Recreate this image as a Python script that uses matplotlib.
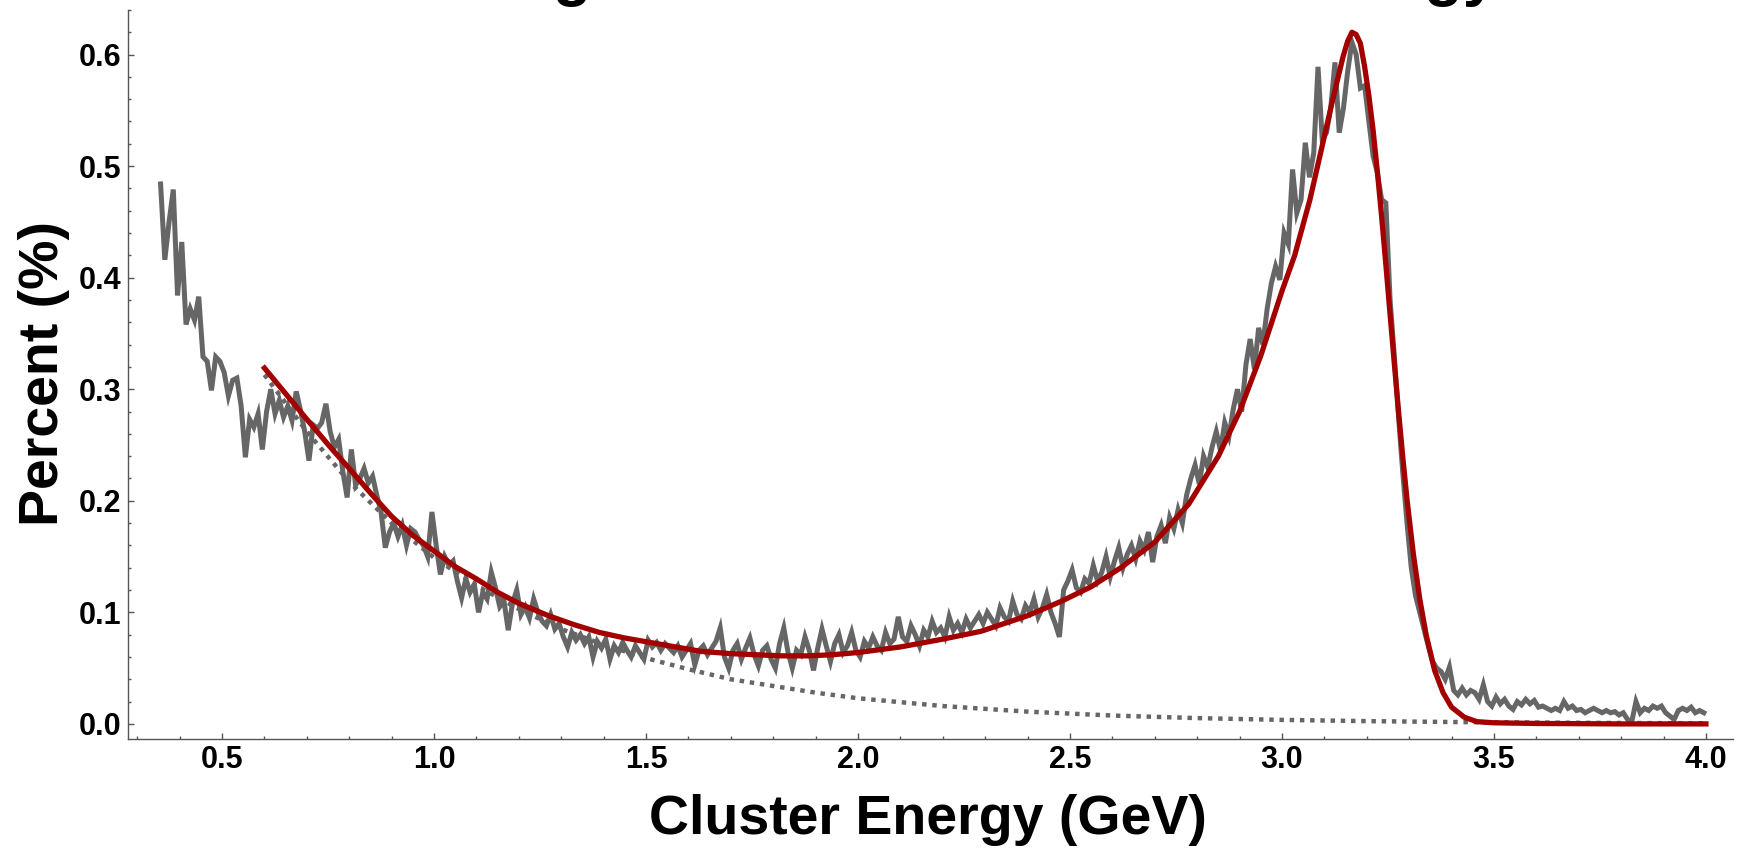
import matplotlib
matplotlib.use("Agg")
import matplotlib.pyplot as plt
from matplotlib.ticker import MultipleLocator, FormatStrFormatter
import numpy as np

# histogram: percent of events per 0.01 GeV bin (bin centres from 0.355 GeV)
bin_start = 0.355
bin_width = 0.01
percent = [
    0.484, 0.416, 0.450, 0.479, 0.384, 0.432, 0.358, 0.372, 0.362, 0.383,
    0.329, 0.325, 0.299, 0.329, 0.325, 0.315, 0.294, 0.308, 0.310, 0.285,
    0.239, 0.273, 0.266, 0.278, 0.246, 0.280, 0.300, 0.278, 0.290, 0.275,
    0.285, 0.272, 0.298, 0.281, 0.262, 0.236, 0.268, 0.265, 0.270, 0.287,
    0.262, 0.248, 0.255, 0.226, 0.203, 0.246, 0.214, 0.220, 0.229, 0.216,
    0.222, 0.205, 0.190, 0.158, 0.172, 0.180, 0.168, 0.178, 0.160, 0.175,
    0.172, 0.165, 0.160, 0.150, 0.190, 0.160, 0.134, 0.150, 0.142, 0.146,
    0.128, 0.113, 0.130, 0.118, 0.125, 0.100, 0.118, 0.112, 0.136, 0.122,
    0.105, 0.110, 0.084, 0.108, 0.120, 0.098, 0.105, 0.095, 0.112, 0.100,
    0.092, 0.088, 0.098, 0.085, 0.090, 0.078, 0.069, 0.082, 0.075, 0.080,
    0.072, 0.078, 0.060, 0.074, 0.068, 0.076, 0.058, 0.070, 0.064, 0.073,
    0.066, 0.060, 0.070, 0.064, 0.058, 0.075, 0.069, 0.073, 0.066, 0.072,
    0.068, 0.064, 0.070, 0.060, 0.066, 0.072, 0.053, 0.066, 0.070, 0.062,
    0.068, 0.074, 0.086, 0.060, 0.050, 0.066, 0.072, 0.058, 0.068, 0.077,
    0.062, 0.052, 0.066, 0.070, 0.058, 0.050, 0.072, 0.086, 0.064, 0.050,
    0.066, 0.062, 0.078, 0.066, 0.048, 0.068, 0.085, 0.070, 0.056, 0.072,
    0.080, 0.064, 0.070, 0.082, 0.066, 0.060, 0.074, 0.068, 0.078, 0.070,
    0.066, 0.082, 0.072, 0.076, 0.096, 0.078, 0.074, 0.088, 0.080, 0.070,
    0.084, 0.078, 0.092, 0.082, 0.086, 0.078, 0.096, 0.084, 0.090, 0.082,
    0.094, 0.086, 0.092, 0.098, 0.090, 0.100, 0.094, 0.088, 0.104, 0.096,
    0.092, 0.110, 0.098, 0.094, 0.106, 0.100, 0.112, 0.096, 0.104, 0.116,
    0.100, 0.090, 0.078, 0.120, 0.128, 0.138, 0.122, 0.118, 0.130, 0.126,
    0.142, 0.128, 0.136, 0.150, 0.132, 0.146, 0.158, 0.140, 0.152, 0.160,
    0.148, 0.164, 0.156, 0.172, 0.145, 0.168, 0.178, 0.162, 0.185, 0.175,
    0.192, 0.180, 0.205, 0.220, 0.232, 0.215, 0.240, 0.230, 0.248, 0.262,
    0.245, 0.270, 0.258, 0.282, 0.300, 0.280, 0.322, 0.345, 0.318, 0.355,
    0.340, 0.372, 0.395, 0.410, 0.398, 0.440, 0.430, 0.497, 0.458, 0.470,
    0.521, 0.490, 0.512, 0.589, 0.524, 0.530, 0.552, 0.593, 0.530, 0.552,
    0.585, 0.611, 0.600, 0.570, 0.572, 0.540, 0.509, 0.494, 0.470, 0.467,
    0.380, 0.330, 0.275, 0.225, 0.180, 0.140, 0.115, 0.100, 0.085, 0.070,
    0.056, 0.050, 0.047, 0.040, 0.051, 0.030, 0.026, 0.032, 0.026, 0.030,
    0.028, 0.022, 0.035, 0.020, 0.016, 0.024, 0.018, 0.022, 0.016, 0.013,
    0.020, 0.017, 0.022, 0.018, 0.021, 0.015, 0.016, 0.014, 0.012, 0.014,
    0.012, 0.020, 0.014, 0.016, 0.012, 0.013, 0.010, 0.012, 0.014, 0.012,
    0.010, 0.012, 0.010, 0.011, 0.008, 0.010, 0.004, 0.002, 0.020, 0.010,
    0.014, 0.012, 0.016, 0.014, 0.016, 0.010, 0.007, 0.004, 0.012, 0.014,
    0.012, 0.015, 0.010, 0.012, 0.010,
]

# full fit
fit_x = [0.60, 0.65, 0.70, 0.76, 0.80, 0.85, 0.90, 0.95, 1.00, 1.05, 1.10, 1.15,
         1.20, 1.27, 1.33, 1.39, 1.45, 1.51, 1.57, 1.63, 1.70, 1.76, 1.82, 1.88,
         1.94, 2.00, 2.10, 2.20, 2.29, 2.40, 2.48, 2.55, 2.62, 2.70, 2.78, 2.85,
         2.90, 2.95, 3.00, 3.03, 3.066, 3.09, 3.12, 3.144, 3.155, 3.165, 3.175,
         3.185, 3.195, 3.205, 3.215, 3.225, 3.235, 3.245, 3.255, 3.265, 3.275,
         3.285, 3.295, 3.31, 3.325, 3.34, 3.36, 3.38, 3.40, 3.43, 3.46, 3.50,
         3.60, 3.80, 4.00]
fit_y = [0.319, 0.296, 0.273, 0.246, 0.229, 0.207, 0.186, 0.169, 0.155, 0.141,
         0.130, 0.118, 0.108, 0.097, 0.089, 0.082, 0.077, 0.073, 0.069, 0.065,
         0.063, 0.062, 0.061, 0.061, 0.062, 0.064, 0.069, 0.076, 0.083, 0.097,
         0.110, 0.123, 0.140, 0.163, 0.197, 0.240, 0.280, 0.330, 0.388, 0.420,
         0.470, 0.510, 0.560, 0.598, 0.612, 0.620, 0.618, 0.610, 0.589, 0.563,
         0.532, 0.495, 0.455, 0.412, 0.367, 0.323, 0.280, 0.239, 0.201, 0.152,
         0.112, 0.080, 0.048, 0.028, 0.015, 0.006, 0.002, 0.001, 0.0004, 0.0,
         0.0]

# background component (dotted)
bg_x = [0.60, 0.70, 0.80, 0.90, 1.00, 1.10, 1.20, 1.30, 1.40, 1.50, 1.60, 1.70,
        1.80, 1.90, 2.00, 2.20, 2.40, 2.60, 2.80, 3.00, 3.20, 3.40, 3.60, 3.80, 4.00]
bg_y = [0.313, 0.262, 0.217, 0.180, 0.149, 0.124, 0.103, 0.085, 0.071, 0.059,
        0.049, 0.040, 0.034, 0.028, 0.023, 0.016, 0.011, 0.0075, 0.0052, 0.0036,
        0.0025, 0.0017, 0.0012, 0.0008, 0.0006]

energy = bin_start + bin_width * np.arange(len(percent))

plt.rcParams["font.family"] = ["Liberation Sans", "DejaVu Sans"]
plt.rcParams["font.weight"] = "bold"

fig = plt.figure(figsize=(17.43, 8.49), dpi=100)
ax = fig.add_axes([0.0734, 0.1296, 0.9209, 0.8587])

ax.plot(energy, percent, color="#666666", lw=3.6, solid_joinstyle="miter")
ax.plot(bg_x, bg_y, color="#666666", lw=3.2, linestyle=(0, (1, 1.3)),
        dash_capstyle="butt")
ax.plot(fit_x, fit_y, color="#a30000", lw=3.8)

ax.set_xlim(0.278, 4.064)
ax.set_ylim(-0.0135, 0.640)

for side in ["top", "right"]:
    ax.spines[side].set_visible(False)
for side in ["left", "bottom"]:
    ax.spines[side].set_color("#555555")
    ax.spines[side].set_linewidth(1.0)

ax.xaxis.set_major_locator(MultipleLocator(0.5))
ax.xaxis.set_minor_locator(MultipleLocator(0.1))
ax.yaxis.set_major_locator(MultipleLocator(0.1))
ax.yaxis.set_minor_locator(MultipleLocator(0.02))
ax.xaxis.set_major_formatter(FormatStrFormatter("%.1f"))
ax.yaxis.set_major_formatter(FormatStrFormatter("%.1f"))
ax.tick_params(which="both", direction="in", color="#555555", width=1.0)
ax.tick_params(which="major", length=4, labelsize=22)
ax.tick_params(which="minor", length=2.4)
ax.tick_params(axis="x", which="major", pad=4)
ax.tick_params(axis="y", which="major", pad=5)

fig.text(0.5325, 0.0177, "Cluster Energy (GeV)", fontsize=40, fontweight="bold",
         ha="center", va="baseline")
fig.text(0.0255, 0.5595, "Percent (%)", fontsize=40, fontweight="bold",
         rotation=90, ha="center", va="center")
# title sits mostly above the canvas; only its descenders show
fig.text(287 / 1743, 1.0071, "Percentage of Events vs. Cluster Energy",
         fontsize=45.4, fontweight="bold", ha="left", va="baseline")

fig.savefig("out.png", dpi=100)
